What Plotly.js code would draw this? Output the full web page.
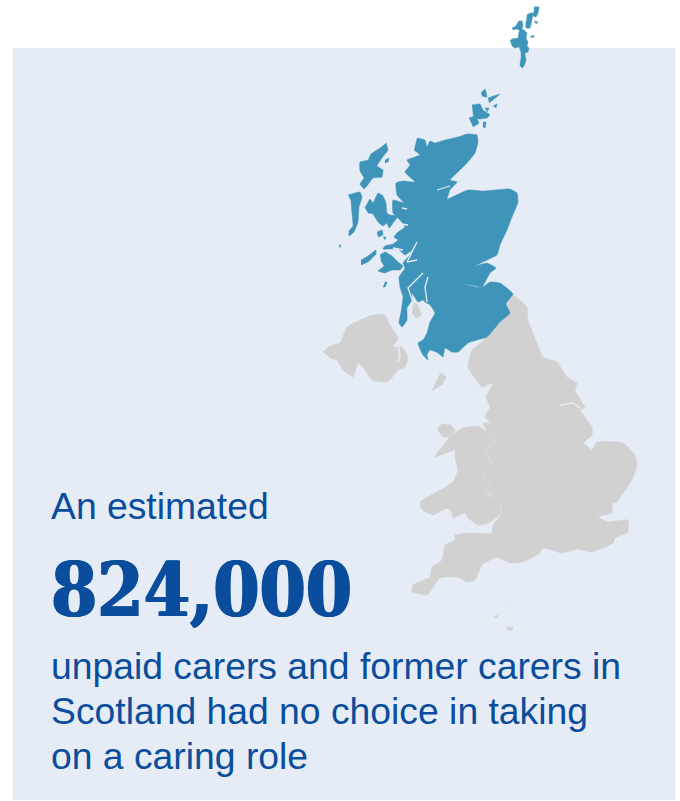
<!DOCTYPE html>
<html>
<head>
<meta charset="utf-8">
<script src="https://cdn.plot.ly/plotly-3.0.1.min.js"></script>
<style>html,body{margin:0;padding:0;background:#fff}#chart{width:680px;height:801px}</style>
</head>
<body>
<div id="chart"></div>
<script>
// Outlines, as [x, y] in picture units
const scotlandMainland = [[417,138],[425,140],[427,147],[430,141],[435,143],[445,140],[458,137],[467,134],[477,135],[478,142],[475,153],[467,163],[458,172],[450,180],[457,182],[450,190],[446,201],[438,203],[448,199],[468,190],[483,191],[510,189],[517,193],[518,202],[512,217],[507,230],[500,245],[497,255],[487,260],[475,266],[487,263],[496,268],[490,273],[482,287],[475,286],[462,283],[475,287],[483,287],[490,282],[500,283],[513,294],[506,304],[510,313],[500,322],[487,337],[477,340],[468,343],[458,352],[452,352],[445,348],[443,357],[438,353],[430,350],[427,355],[428,360],[423,355],[418,343],[423,340],[427,333],[430,322],[435,313],[430,305],[425,302],[423,300],[418,302],[412,293],[412,300],[407,308],[407,320],[402,327],[399,323],[401,312],[403,297],[400,287],[399,277],[405,268],[403,263],[410,255],[417,242],[412,250],[405,255],[398,249],[383,249],[385,246],[393,244],[398,240],[394,237],[398,232],[405,227],[400,220],[393,213],[393,200],[404,203],[397,195],[396,183],[403,181],[415,182],[405,172],[410,165],[407,160],[415,157],[420,155],[414,150]];
const scotlandIslands = [
  [[365,208],[370,199],[373,203],[378,193],[383,196],[386,203],[387,213],[390,215],[398,216],[394,222],[389,228],[387,223],[383,226],[378,222],[373,214],[368,213]],
  [[386,143],[388,150],[382,158],[377,166],[383,170],[382,177],[373,178],[367,186],[364,189],[360,184],[364,178],[360,171],[360,162],[368,160],[371,154],[380,148]],
  [[385,160],[389,158],[388,162],[385,163]],
  [[348,195],[355,193],[360,192],[362,197],[359,207],[358,222],[354,232],[349,236],[349,231],[353,226],[352,213],[351,201]],
  [[377,232],[382,230],[383,235],[378,237]],
  [[383,237],[386,237],[385,240]],
  [[380,255],[385,252],[392,256],[398,262],[403,266],[400,270],[392,270],[385,273],[378,271],[384,266],[381,261]],
  [[361,260],[368,256],[376,250],[376,254],[368,262],[361,265]],
  [[339,245],[341,245],[340,248]],
  [[385,282],[387,282],[385,287],[383,287]],
  [[472,105],[480,104],[483,110],[490,115],[487,118],[478,119],[473,115]],
  [[469,118],[475,116],[479,123],[473,127]],
  [[483,122],[486,122],[485,128],[483,127]],
  [[481,93],[485,89],[487,97],[482,96]],
  [[488,98],[500,94],[493,100],[489,103]],
  [[493,106],[497,104],[496,108]],
  [[485,108],[489,108],[487,112]],
  [[510,41],[512,39],[518,38],[519,32],[521,29],[524,30],[527,33],[526,38],[528,42],[527,46],[529,48],[528,52],[525,53],[526,60],[524,66],[522,68],[520,65],[521,58],[521,52],[519,47],[515,48],[512,46]],
  [[512,28],[516,26],[519,21],[522,21],[523,26],[521,31],[517,29],[513,30]],
  [[534,7],[539,7],[538,13],[536,17],[533,16],[534,11]],
  [[527,15],[530,13],[533,13],[532,20],[530,28],[526,28],[526,22]],
  [[534,21],[538,22],[536,24]],
  [[530,37],[534,35],[533,38]]
];
const scotlandInlets = [
  [[417,242],[407,262]],
  [[423,273],[413,283],[408,288],[413,302]],
  [[428,277],[425,287],[427,302]],
  [[402,208],[407,209]],
  [[393,223],[408,225]],
  [[417,260],[407,262]],
  [[393,248],[403,250]],
  [[437,190],[450,186]]
];
const englandWales = [[513,295],[520,300],[527,307],[528,320],[537,343],[543,357],[557,362],[567,377],[577,383],[575,390],[585,408],[580,410],[592,427],[592,435],[584,443],[592,450],[597,442],[623,443],[635,455],[637,465],[632,480],[624,492],[617,502],[612,503],[612,513],[598,517],[608,522],[628,520],[628,532],[615,538],[613,543],[592,552],[577,549],[562,553],[543,548],[540,553],[523,562],[510,563],[497,557],[482,565],[475,580],[468,582],[457,577],[440,578],[430,592],[427,595],[412,592],[413,585],[430,577],[432,567],[442,560],[445,545],[455,540],[455,535],[468,533],[492,533],[493,525],[502,514],[488,523],[478,525],[468,518],[465,513],[453,518],[452,513],[447,508],[433,515],[422,510],[420,502],[437,492],[453,482],[458,470],[455,458],[455,450],[435,457],[450,437],[462,428],[478,426],[487,432],[483,423],[490,423],[497,428],[485,417],[490,407],[486,397],[493,383],[482,387],[468,367],[472,350],[483,341],[498,323],[510,313],[507,304]];
const greyIslands = [
  [[323,352],[330,346],[340,343],[347,327],[360,320],[373,315],[385,315],[390,325],[398,338],[393,347],[402,347],[408,357],[405,367],[398,370],[390,380],[385,382],[372,380],[363,367],[358,363],[353,377],[343,370],[337,360],[330,358]],
  [[413,303],[417,304],[421,315],[416,318],[412,312]],
  [[432,391],[441,373],[446,377],[442,385]],
  [[437,430],[442,424],[450,425],[455,430],[450,437],[443,437]],
  [[493,617],[498,615],[497,618]],
  [[506,627],[512,627],[513,630],[508,630]],
  [[506,604],[508,604]]
];
const walesBorder = [[487,432],[497,443],[485,450],[492,463],[483,475],[490,482],[484,490],[490,497],[488,493],[500,503],[502,514]];
const humber = [[560,405],[573,403],[580,408]];
const greyLoughs = [[398,345],[400,355],[398,362]];

const lineOne = 'An estimated';
const bigNumber = '824,000';
const bodyLines = ['unpaid carers and former carers in', 'Scotland had no choice in taking', 'on a caring role'];

const PANEL = '#e6ecf5', BLUE = '#3f95b9', GREY = '#d1d1d1', INK = '#0a4d9c';

function flat(polys, i) {
  const out = [];
  polys.forEach(p => { p.forEach(q => out.push(q[i])); out.push(null); });
  return out;
}
function fillTrace(polys, color, smooth) {
  return {x: flat(polys,0), y: flat(polys,1), type:'scatter', mode:'lines', fill:'toself',
          fillcolor:color, line:{color:color, width:0.5, shape: smooth ? 'spline' : 'linear', smoothing: smooth || 0}, hoverinfo:'skip', showlegend:false};
}
function lineTrace(polys, color, w) {
  return {x: flat(polys,0), y: flat(polys,1), type:'scatter', mode:'lines',
          line:{color:color, width:w}, hoverinfo:'skip', showlegend:false};
}
const traces = [
  fillTrace([englandWales], GREY, 0.4),
  fillTrace(greyIslands, GREY, 0.4),
  lineTrace([walesBorder], '#dcdfe3', 0.7),
  lineTrace([humber], PANEL, 1.5),
  lineTrace([greyLoughs], PANEL, 1.5),
  fillTrace([scotlandMainland], BLUE, 0.4),
  fillTrace(scotlandIslands, BLUE, 0.3),
  lineTrace(scotlandInlets, PANEL, 1.3)
];
function label(text, y, size, family, bold) {
  return {text: bold ? '<b>'+text+'</b>' : text, x:50, y:y, xref:'x', yref:'y', xanchor:'left', yanchor:'middle',
          showarrow:false, align:'left', borderpad:0,
          font:{family:family, size:size, color:INK, shadow: bold ? '1px 0 0 '+INK+', -1px 0 0 '+INK : 'none'}};
}
const sans = '"Liberation Sans", Arial, sans-serif';
const serif = '"DejaVu Serif Condensed", "DejaVu Serif", serif';
const layout = {
  width:680, height:801, margin:{l:0,r:0,t:0,b:0}, paper_bgcolor:'#ffffff', plot_bgcolor:'#ffffff',
  showlegend:false,
  xaxis:{range:[0,680], visible:false, fixedrange:true},
  yaxis:{range:[801,0], visible:false, fixedrange:true},
  shapes:[{type:'rect', xref:'x', yref:'y', x0:13, x1:675, y0:48, y1:800, fillcolor:PANEL, line:{width:0}, layer:'below'}],
  annotations:[
    label(lineOne, 506, 37.3, sans),
    label(bigNumber, 590, 74, serif, true),
    label(bodyLines[0], 666, 37.3, sans),
    label(bodyLines[1], 711, 37.3, sans),
    label(bodyLines[2], 756, 37.3, sans)
  ]
};
Plotly.newPlot('chart', traces, layout, {displayModeBar:false, staticPlot:true});
</script>
</body>
</html>
